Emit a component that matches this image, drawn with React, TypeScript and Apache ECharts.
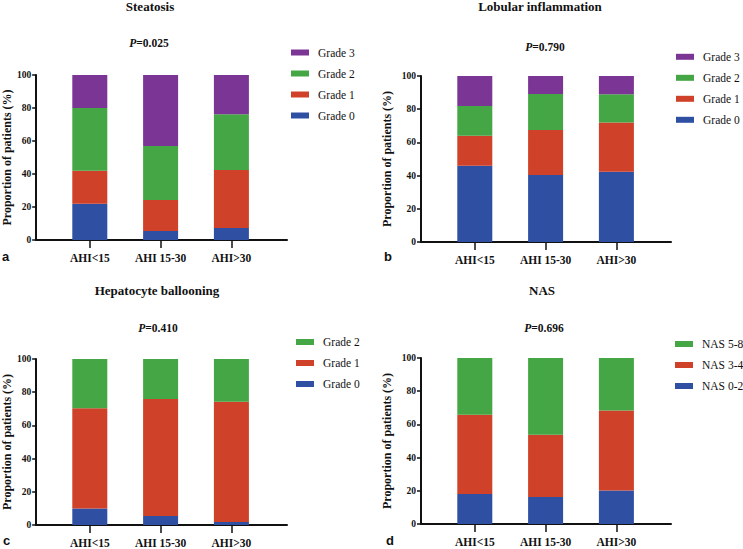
import React, { useEffect, useRef } from "react";
import * as echarts from "echarts";

// ---------- data ----------
const categories = ["AHI<15", "AHI 15-30", "AHI>30"];

const steatosisNames = ["Grade 0", "Grade 1", "Grade 2", "Grade 3"];
const steatosisG0 = [22, 5.4, 7.3];
const steatosisG1 = [20, 18.9, 35.1];
const steatosisG2 = [38, 32.7, 33.8];
const steatosisG3 = [20, 43, 23.8];

const lobularNames = ["Grade 0", "Grade 1", "Grade 2", "Grade 3"];
const lobularG0 = [46, 40.3, 42.3];
const lobularG1 = [18, 27.1, 29.7];
const lobularG2 = [18, 21.7, 17];
const lobularG3 = [18, 10.9, 11];

const ballooningNames = ["Grade 0", "Grade 1", "Grade 2"];
const ballooningG0 = [10, 5.4, 1.8];
const ballooningG1 = [60.3, 70.5, 72.5];
const ballooningG2 = [29.7, 24.1, 25.7];

const nasNames = ["NAS 0-2", "NAS 3-4", "NAS 5-8"];
const nasLow = [18.1, 16.3, 20.2];
const nasMid = [47.7, 37.5, 48.1];
const nasHigh = [34.2, 46.2, 31.7];

const panelTitles = ["Steatosis", "Lobular inflammation", "Hepatocyte ballooning", "NAS"];
const pValues = ["0.025", "0.790", "0.410", "0.696"];
const panelLetters = ["a", "b", "c", "d"];
const yTickMax = 100;
const yTickStep = 20;
const yAxisName = "Proportion of patients (%)";

// ---------- style / layout ----------
const COLORS = ["#2F4FA3", "#CF4128", "#44A644", "#7B3595"];
const SERIF = "'Liberation Serif', 'Times New Roman', serif";
const SANS = "'Liberation Sans', Arial, sans-serif";
const INK = "#111";

// outer plot frame for each panel (axis lines)
const frames = [
  { left: 36, top: 75, width: 251, height: 165 },
  { left: 421, top: 76, width: 250, height: 166 },
  { left: 36, top: 359, width: 251, height: 166 },
  { left: 421, top: 358, width: 250, height: 166 },
];
// category band inside the frame
const BAND = 70.8; // px per category
const FIRST_CENTER = 53.8; // px from frame left to first category centre

const titlePos = [
  { x: 150, y: 0 },
  { x: 540, y: 0 },
  { x: 157, y: 284 },
  { x: 542, y: 284 },
];
const pPos = [
  { x: 149, y: 37 },
  { x: 545, y: 41 },
  { x: 158, y: 322 },
  { x: 544, y: 322 },
];
const letterPos = [
  { x: 2, y: 250 },
  { x: 384, y: 250 },
  { x: 3, y: 534 },
  { x: 386, y: 534 },
];
const legendPos = [
  { x: 291, y: 46.5 },
  { x: 676, y: 50.8 },
  { x: 296, y: 336 },
  { x: 675, y: 338 },
];
const nameGaps = [23, 28, 23, 28];

const panels = [
  { names: steatosisNames, data: [steatosisG0, steatosisG1, steatosisG2, steatosisG3] },
  { names: lobularNames, data: [lobularG0, lobularG1, lobularG2, lobularG3] },
  { names: ballooningNames, data: [ballooningG0, ballooningG1, ballooningG2] },
  { names: nasNames, data: [nasLow, nasMid, nasHigh] },
];

function buildOption() {
  const title: any[] = [];
  const legend: any[] = [];
  const grid: any[] = [];
  const xAxis: any[] = [];
  const yAxis: any[] = [];
  const series: any[] = [];

  panels.forEach((p, pi) => {
    const f = frames[pi];
    title.push({
      text: panelTitles[pi],
      left: titlePos[pi].x,
      top: titlePos[pi].y,
      textAlign: "center",
      padding: 0,
      textStyle: { fontFamily: SERIF, fontWeight: "bold", fontSize: 13, color: INK },
    });
    title.push({
      text: "{i|P}{b|=" + pValues[pi] + "}",
      left: pPos[pi].x,
      top: pPos[pi].y,
      textAlign: "center",
      padding: 0,
      textStyle: {
        rich: {
          i: { fontFamily: SERIF, fontStyle: "italic", fontWeight: "bold", fontSize: 11.5, color: INK },
          b: { fontFamily: SERIF, fontWeight: "bold", fontSize: 11.5, color: INK },
        },
      },
    });
    title.push({
      text: panelLetters[pi],
      left: letterPos[pi].x,
      top: letterPos[pi].y,
      padding: 0,
      textStyle: { fontFamily: SANS, fontWeight: "bold", fontSize: 13, color: INK },
    });

    legend.push({
      orient: "vertical",
      left: legendPos[pi].x,
      top: legendPos[pi].y,
      padding: 0,
      itemWidth: 18,
      itemHeight: 6,
      itemGap: 9,
      icon: "rect",
      selectedMode: false,
      data: [...p.names].reverse(),
      textStyle: { fontFamily: SERIF, fontSize: 11.5, color: INK, padding: [0, 0, 0, 4] },
    });

    // grid A: full frame with axis lines + y labels
    const gA = grid.length;
    grid.push({ ...f, containLabel: false });
    // grid B: category band holding the bars
    const gB = grid.length;
    grid.push({
      left: f.left + FIRST_CENTER - BAND / 2,
      top: f.top,
      width: BAND * categories.length,
      height: f.height,
      containLabel: false,
    });

    const xA = xAxis.length;
    xAxis.push({
      type: "value",
      gridIndex: gA,
      min: 0,
      max: 1,
      splitLine: { show: false },
      axisLine: { show: true, onZero: false, lineStyle: { color: INK, width: 2 } },
      axisTick: { show: false },
      axisLabel: { show: false },
    });
    const xB = xAxis.length;
    xAxis.push({
      type: "category",
      gridIndex: gB,
      data: categories,
      boundaryGap: true,
      axisLine: { show: false },
      axisTick: { show: true, alignWithLabel: true, length: 8, lineStyle: { color: INK, width: 1.5 } },
      axisLabel: {
        margin: 12,
        fontFamily: SERIF,
        fontWeight: "bold",
        fontSize: 11.5,
        color: INK,
        interval: 0,
      },
    });

    const yA = yAxis.length;
    yAxis.push({
      type: "value",
      gridIndex: gA,
      min: 0,
      max: yTickMax,
      interval: yTickStep,
      name: yAxisName,
      nameLocation: "middle",
      nameRotate: 90,
      nameGap: nameGaps[pi],
      nameTextStyle: { fontFamily: SERIF, fontWeight: "bold", fontSize: 12, color: INK },
      splitLine: { show: false },
      axisLine: { show: true, lineStyle: { color: INK, width: 2 } },
      axisTick: { show: true, length: 4, lineStyle: { color: INK, width: 1.5 } },
      axisLabel: { margin: 5, fontFamily: SERIF, fontWeight: "bold", fontSize: 9.5, color: INK },
    });
    const yB = yAxis.length;
    yAxis.push({
      type: "value",
      gridIndex: gB,
      min: 0,
      max: yTickMax,
      show: false,
      splitLine: { show: false },
    });
    void xA;
    void yA;

    p.data.forEach((arr, si) => {
      series.push({
        type: "bar",
        name: p.names[si],
        xAxisIndex: xB,
        yAxisIndex: yB,
        stack: "s" + pi,
        barWidth: 35,
        itemStyle: { color: COLORS[si] },
        emphasis: { disabled: true },
        data: arr,
      });
    });
  });

  return { animation: false, backgroundColor: "#fff", title, legend, grid, xAxis, yAxis, series };
}

export default function App() {
  const ref = useRef<HTMLDivElement>(null);
  useEffect(() => {
    if (!ref.current) return;
    const chart = echarts.init(ref.current, undefined, { renderer: "svg" });
    chart.setOption(buildOption() as any);
    return () => chart.dispose();
  }, []);
  return (
    <div
      ref={ref}
      style={{ position: "fixed", left: 0, top: 0, width: 743, height: 549, background: "#fff" }}
    />
  );
}
